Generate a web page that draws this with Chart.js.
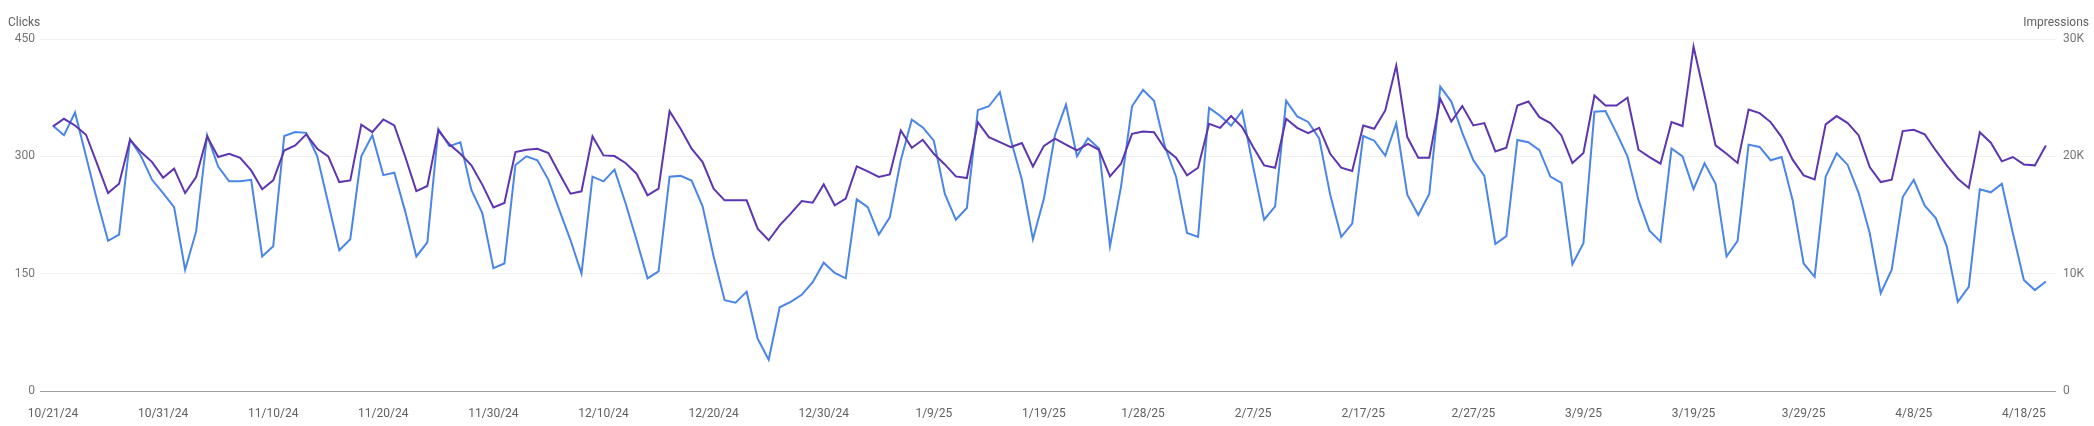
<!DOCTYPE html>
<html>
<head>
<meta charset="utf-8">
<title>Clicks and impressions</title>
<script src="https://cdn.jsdelivr.net/npm/chart.js@4.4.1/dist/chart.umd.min.js"></script>
<style>
  html, body { margin: 0; padding: 0; background: #fff; }
  .wrap { position: relative; width: 2094px; height: 426px; font-family: Roboto, "Noto Sans", sans-serif; }
  .axis-title { position: absolute; top: 15px; font-size: 12px; line-height: 14px; color: #616161; }
  #clicksTitle { left: 8px; }
  #impressionsTitle { right: 5px; }
</style>
</head>
<body>
<div class="wrap">
  <canvas id="chart" width="2094" height="426"></canvas>
  <div class="axis-title" id="clicksTitle">Clicks</div>
  <div class="axis-title" id="impressionsTitle">Impressions</div>
</div>
<script>
// daily values, 10/21/24 .. 4/20/25 (182 days)
const clicks = [
  339, 327, 356, 300, 244, 192, 200, 322, 300, 270,
  253, 235, 155, 204, 327, 287, 268, 268, 270, 172,
  185, 326, 331, 330, 300, 240, 180, 194, 300, 327,
  276, 279, 229, 172, 190, 335, 313, 318, 257, 227,
  157, 163, 289, 300, 295, 270, 231, 193, 150, 274,
  268, 283, 240, 193, 144, 153, 274, 275, 269, 236,
  172, 116, 113, 127, 67, 40, 107, 114, 123, 139,
  164, 151, 144, 245, 235, 200, 222, 295, 347, 337,
  320, 252, 219, 234, 359, 364, 382, 321, 270, 194,
  246, 327, 366, 300, 323, 310, 185, 261, 364, 385,
  371, 312, 274, 202, 197, 362, 352, 339, 358, 287,
  219, 236, 371, 351, 344, 323, 251, 197, 214, 326,
  320, 301, 342, 251, 225, 252, 389, 370, 330, 295,
  275, 188, 198, 321, 318, 308, 274, 266, 162, 189,
  357, 358, 330, 300, 244, 205, 191, 310, 300, 258,
  291, 265, 172, 192, 315, 312, 295, 299, 244, 163,
  146, 274, 304, 289, 253, 202, 125, 155, 248, 270,
  237, 221, 185, 114, 133, 258, 254, 265, 202, 142,
  129, 140
]

const impressions = [
  22550, 23200, 22630, 21840, 19370, 16870, 17670, 21410, 20360, 19510,
  18180, 18950, 16870, 18240, 21700, 19940, 20220, 19880, 18800, 17190,
  17950, 20500, 20930, 21870, 20650, 19990, 17810, 17950, 22690, 22060,
  23140, 22630, 19940, 17040, 17470, 22210, 21020, 20220, 19230, 17570,
  15650, 16020, 20360, 20560, 20650, 20280, 18520, 16820, 17020, 21700,
  20080, 20020, 19430, 18520, 16680, 17240, 23850, 22350, 20650, 19510,
  17240, 16250, 16250, 16250, 13840, 12850, 14120, 15120, 16190, 16050,
  17610, 15830, 16390, 19140, 18720, 18240, 18460, 22210, 20730, 21410,
  20220, 19310, 18290, 18150, 22920, 21640, 21210, 20790, 21130, 19130,
  20890, 21500, 20990, 20500, 21070, 20560, 18290, 19370, 21920, 22120,
  22060, 20650, 19880, 18380, 19030, 22770, 22430, 23440, 22490, 20790,
  19230, 19030, 23200, 22430, 21980, 22430, 20220, 19030, 18750, 22630,
  22350, 23910, 27740, 21640, 19880, 19880, 24900, 22970, 24280, 22630,
  22830, 20420, 20730, 24330, 24670, 23340, 22830, 21780, 19430, 20280,
  25180, 24330, 24330, 24990, 20560, 19940, 19370, 22920, 22580, 29350,
  25180, 20930, 20220, 19430, 23990, 23680, 22920, 21640, 19720, 18380,
  18040, 22720, 23430, 22830, 21780, 19090, 17810, 18010, 22150, 22260,
  21870, 20500, 19230, 18090, 17300, 22060, 21160, 19570, 19940, 19310,
  19230, 20930
]

// x-axis labels and the day index each one sits on
const tickDays = [0, 10, 20, 30, 40, 50, 60, 70, 80, 90, 99, 109, 119, 129, 139, 149, 159, 169, 179]
const tickLabels = [
  "10/21/24", "10/31/24", "11/10/24", "11/20/24", "11/30/24", "12/10/24", "12/20/24",
  "12/30/24", "1/9/25", "1/19/25", "1/28/25", "2/7/25", "2/17/25", "2/27/25",
  "3/9/25", "3/19/25", "3/29/25", "4/8/25", "4/18/25"
]

const clicksTicks = [0, 150, 300, 450]
const impressionsTicks = [0, 10000, 20000, 30000]

const toPoints = (values) => values.map((v, i) => ({ x: i, y: v }))

const tickFont = { family: "Roboto", size: 12 }

new Chart(document.getElementById("chart"), {
  type: "line",
  data: {
    datasets: [
      {
        label: "Impressions",
        data: toPoints(impressions),
        yAxisID: "yImp",
        borderColor: "#5e35b1",
        borderWidth: 2,
        pointRadius: 0,
        tension: 0,
        order: 0,
      },
      {
        label: "Clicks",
        data: toPoints(clicks),
        yAxisID: "yClicks",
        borderColor: "#4a86e8",
        borderWidth: 2,
        pointRadius: 0,
        tension: 0,
        order: 1,
      },
    ],
  },
  options: {
    responsive: false,
    animation: false,
    devicePixelRatio: 1,
    layout: { padding: { top: 39, left: 0, right: 0, bottom: 0 } },
    plugins: {
      legend: { display: false },
      tooltip: { enabled: false },
    },
    scales: {
      x: {
        type: "linear",
        min: -1.18,
        max: 181.92,
        afterBuildTicks: (scale) => {
          scale.ticks = tickDays.map((d) => ({ value: d }))
        },
        afterFit: (scale) => {
          scale.height = 35
        },
        grid: { display: false, drawTicks: false },
        border: { display: false },
        ticks: {
          autoSkip: false,
          maxRotation: 0,
          padding: 16,
          color: "#616161",
          font: tickFont,
          callback: (value) => tickLabels[tickDays.indexOf(value)],
        },
      },
      yClicks: {
        position: "left",
        min: 0,
        max: 450,
        afterBuildTicks: (scale) => {
          scale.ticks = clicksTicks.map((v) => ({ value: v }))
        },
        afterFit: (scale) => {
          scale.width = 40
        },
        border: { display: false },
        grid: {
          drawTicks: false,
          lineWidth: 1,
          color: (ctx) => (ctx.tick && ctx.tick.value === 0 ? "#9e9e9e" : "#f1f1f1"),
        },
        ticks: { padding: 5, color: "#757575", font: tickFont },
      },
      yImp: {
        position: "right",
        min: 0,
        max: 30000,
        afterBuildTicks: (scale) => {
          scale.ticks = impressionsTicks.map((v) => ({ value: v }))
        },
        afterFit: (scale) => {
          scale.width = 38
        },
        border: { display: false },
        grid: { display: false, drawTicks: false },
        ticks: {
          padding: 7,
          color: "#757575",
          font: tickFont,
          callback: (value) => (value === 0 ? "0" : value / 1000 + "K"),
        },
      },
    },
  },
})
</script>
</body>
</html>
